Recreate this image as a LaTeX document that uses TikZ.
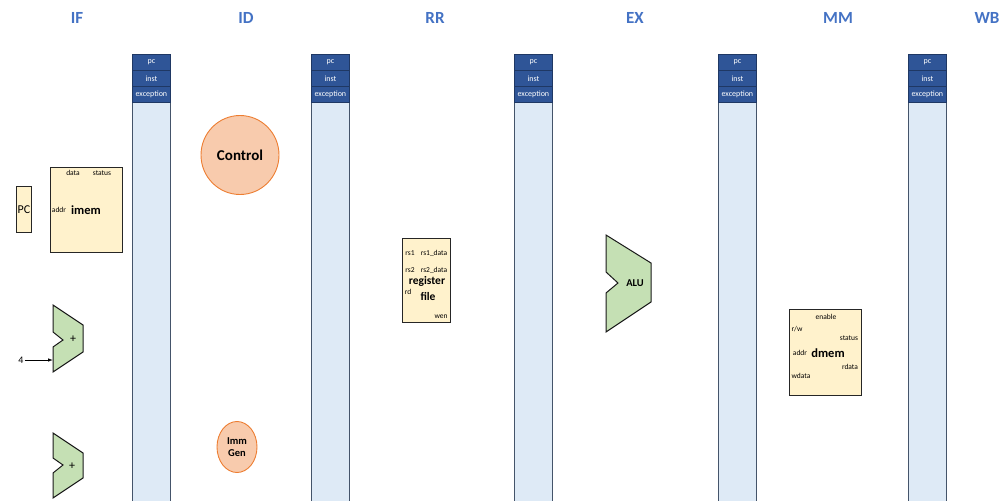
\documentclass[tikz,border=0pt]{standalone}
\usepackage{fontspec}
\setmainfont{Carlito}
\usetikzlibrary{arrows.meta,shapes.geometric}
\definecolor{stageblue}{HTML}{4472C4}
\definecolor{reghead}{HTML}{2F5597}
\definecolor{regline}{HTML}{1F3864}
\definecolor{regbody}{HTML}{DEEAF6}
\definecolor{regbodyline}{HTML}{44546A}
\definecolor{memfill}{HTML}{FFF2CC}
\definecolor{alufill}{HTML}{C5E0B4}
\definecolor{ctrlfill}{HTML}{F8CBAD}
\definecolor{ctrlline}{HTML}{ED7D31}
\tikzset{
  stage/.style={text=stageblue,font=\fontsize{17}{19}\selectfont\bfseries},
  regcell/.style={draw=regline,line width=0.8pt,fill=reghead,text=white,
    font=\fontsize{8}{9}\selectfont,minimum width=38pt,minimum height=16pt,
    inner sep=0pt,anchor=north west},
  regbodystyle/.style={draw=regbodyline,line width=0.6pt,fill=regbody},
  membox/.style={draw=black!85,line width=0.9pt,fill=memfill,inner sep=0pt,anchor=north west},
  port/.style={font=\fontsize{7.5}{8}\selectfont,inner sep=0pt},
  unitname/.style={font=\bfseries,inner sep=0pt},
  adder/.style={draw=black!90,line width=1pt,fill=alufill,line join=miter},
  ctrlunit/.style={draw=ctrlline,line width=0.9pt,fill=ctrlfill,ellipse,inner sep=0pt},
}
\begin{document}
\begin{tikzpicture}[x=1pt,y=-1pt]
\useasboundingbox (0,0) rectangle (1002,501);

% stage titles
\node[stage] (tIF) at (77,18) {IF};
\node[stage] (tID) at (246,18) {ID};
\node[stage] (tRR) at (435,18) {RR};
\node[stage] (tEX) at (635,18) {EX};
\node[stage] (tMM) at (838,18) {MM};
\node[stage] (tWB) at (987,18) {WB};

% pipeline registers
\foreach \n/\x in {ifid/132,idrr/311,rrex/514,exmm/718,mmwb/908}{
  \draw[regbodystyle] (\x,102) rectangle (\x+38,506);
  \node[regcell] (\n-pc) at (\x,54) {pc};
  \node[regcell] (\n-inst) at (\x,70) {inst};
  \node[regcell] (\n-exc) at (\x,86) {exception};
}

% fetch
\node[membox,minimum width=15pt,minimum height=46pt,font=\fontsize{12}{13}\selectfont] (pc) at (16,186) {PC};
\node[membox,minimum width=72pt,minimum height=85pt] (imem) at (50,167) {};
\node[port] (imem-data) at (73,173) {data};
\node[port] (imem-status) at (102,173) {status};
\node[port] (imem-addr) at (59,210) {addr};
\node[unitname,font=\fontsize{12.5}{14}\selectfont\bfseries] (imem-name) at (86,210) {imem};

% pc + 4 adder
\draw[adder] (53,305) -- (83,325) -- (83,352) -- (53,372) -- (53,347) -- (63,340) -- (53,332) -- cycle;
\node[inner sep=0pt,font=\fontsize{12}{13}\selectfont] (add1) at (73,339) {+};
\node[inner sep=1pt,font=\fontsize{10}{11}\selectfont] (four) at (21,360) {4};
\coordinate (add1-in) at (53,360);
\draw[-{Latex[length=5pt,width=3.5pt]},line width=0.8pt] (four) -- (add1-in);

% branch target adder
\draw[adder] (53,433) -- (83,453) -- (83,478) -- (53,498) -- (53,473) -- (63,465) -- (53,458) -- cycle;
\node[inner sep=0pt,font=\fontsize{12}{13}\selectfont] (add2) at (72,466) {+};

% decode
\node[ctrlunit,minimum width=78pt,minimum height=79pt,font=\fontsize{15}{17}\selectfont\bfseries] (control) at (240,155) {Control};
\node[ctrlunit,minimum width=40pt,minimum height=51pt,align=center,font=\fontsize{10.5}{12.5}\selectfont\bfseries] (immgen) at (237,447) {Imm\\Gen};

% register read
\node[membox,minimum width=48pt,minimum height=84pt] (rf) at (402,238) {};
\node[port] (rf-rs1) at (410,253) {rs1};
\node[port] (rf-rs1d) at (434,253) {rs1\_data};
\node[port] (rf-rs2) at (410,270) {rs2};
\node[port] (rf-rs2d) at (434,270) {rs2\_data};
\node[port] (rf-rd) at (408,292) {rd};
\node[unitname,font=\fontsize{11.5}{13}\selectfont\bfseries] (rf-name) at (427,281) {register};
\node[unitname,font=\fontsize{11.5}{13}\selectfont\bfseries] (rf-name2) at (428,296) {file};
\node[port] (rf-wen) at (441,317) {wen};

% execute
\draw[adder] (606,235) -- (651,263) -- (651,302) -- (606,332) -- (606,293) -- (618,283) -- (606,272) -- cycle;
\node[unitname,font=\fontsize{10.5}{12}\selectfont\bfseries] (alu) at (635,283) {ALU};

% memory
\node[membox,minimum width=72pt,minimum height=86pt] (dmem) at (789,309) {};
\node[port] (dmem-en) at (826,317) {enable};
\node[port] (dmem-rw) at (797,329) {r/w};
\node[port] (dmem-status) at (849,338) {status};
\node[port] (dmem-addr) at (800,353) {addr};
\node[port] (dmem-rdata) at (850,367) {rdata};
\node[port] (dmem-wdata) at (801,376) {wdata};
\node[unitname,font=\fontsize{12.5}{14}\selectfont\bfseries] (dmem-name) at (828,353) {dmem};
\end{tikzpicture}
\end{document}
